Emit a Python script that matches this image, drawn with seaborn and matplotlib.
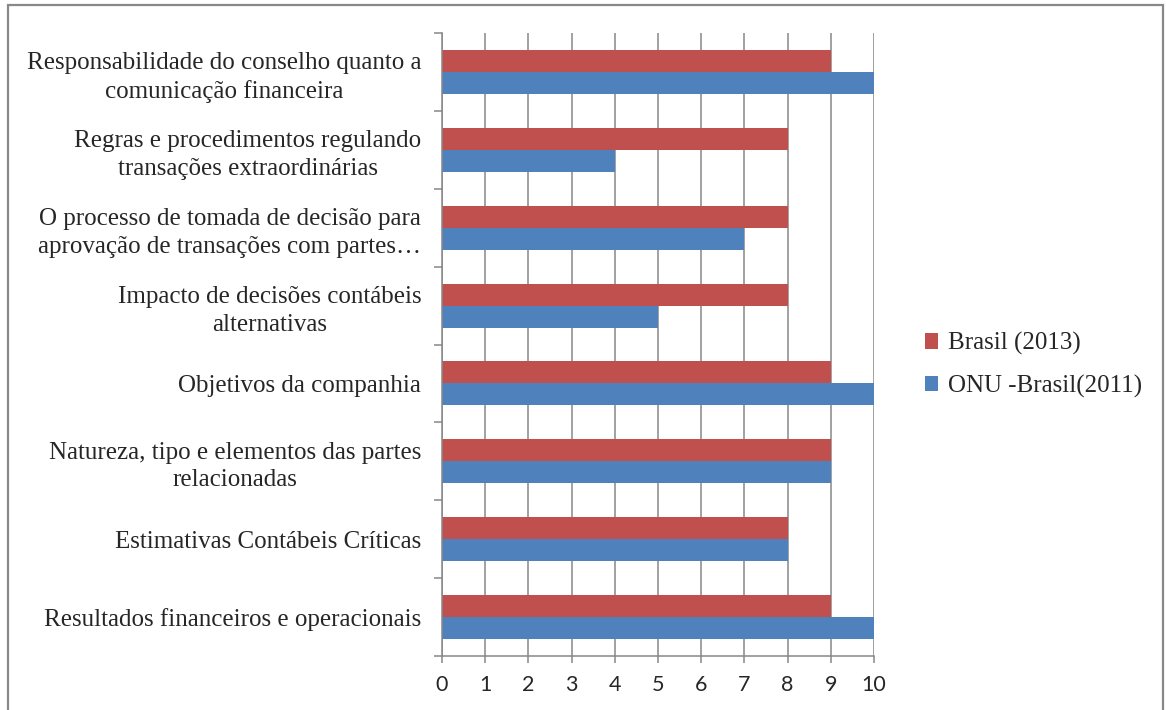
import matplotlib
matplotlib.use("Agg")
import matplotlib.pyplot as plt
from matplotlib.patches import Rectangle
import numpy as np
import pandas as pd
import seaborn as sns

categories = [
    "Responsabilidade do conselho quanto a\ncomunicação financeira",
    "Regras e procedimentos regulando\ntransações extraordinárias",
    "O processo de tomada de decisão para\naprovação de transações com partes…",
    "Impacto de decisões contábeis\nalternativas",
    "Objetivos da companhia",
    "Natureza, tipo e elementos das partes\nrelacionadas",
    "Estimativas Contábeis Críticas",
    "Resultados financeiros e operacionais",
]
brasil_2013 = [9, 8, 8, 8, 9, 9, 8, 9]
onu_brasil_2011 = [10, 4, 7, 5, 10, 9, 8, 10]
series_names = ["Brasil (2013)", "ONU -Brasil(2011)"]
x_ticks = list(range(0, 11))

df = pd.DataFrame({
    "categoria": categories * 2,
    "valor": brasil_2013 + onu_brasil_2011,
    "serie": [series_names[0]] * len(categories) + [series_names[1]] * len(categories),
})

sns.set_theme(style="white")
plt.rcParams["font.family"] = ["Liberation Serif", "DejaVu Serif"]

fig = plt.figure(figsize=(11.66, 7.10), dpi=100)
ax = fig.add_axes([442 / 1166, 1 - 656 / 710, (874 - 442) / 1166, (656 - 33) / 710])

palette = {series_names[0]: "#C0504D", series_names[1]: "#4F81BD"}
sns.barplot(data=df, x="valor", y="categoria", hue="serie", hue_order=series_names,
            order=categories, palette=palette, orient="h", width=0.565, gap=0,
            saturation=1, ax=ax, legend=True, linewidth=0)

grid_c = "#878787"
ax.set_xlim(0, 10)
ax.set_ylim(len(categories) - 0.5, -0.5)
ax.set_xticks(x_ticks)
ax.set_xticklabels([str(t) for t in x_ticks], family=["Lato", "DejaVu Sans"], fontsize=15.5)
ax.xaxis.grid(True, color=grid_c, linewidth=1.1)
ax.yaxis.grid(False)
ax.set_axisbelow(True)
ax.tick_params(axis="x", direction="out", length=5, width=1.1, color=grid_c, pad=9, bottom=True)

# category labels without ticks; separators as minor ticks between groups
ax.set_yticks(np.arange(len(categories)))
ax.set_yticklabels(categories, fontsize=18, multialignment="center", linespacing=1.33)
ax.set_yticks(np.arange(-0.5, len(categories)), minor=True)
ax.tick_params(axis="y", which="major", length=0, pad=15)
ax.tick_params(axis="y", which="minor", direction="out", length=6, width=1.1, color=grid_c, left=True)

for s in ["top", "right"]:
    ax.spines[s].set_visible(False)
for s in ["left", "bottom"]:
    ax.spines[s].set_color(grid_c)
    ax.spines[s].set_linewidth(1.1)

ax.set_xlabel("")
ax.set_ylabel("")

ax.legend(loc="center left", bbox_to_anchor=(912 / 1166, 1 - 365 / 710),
          bbox_transform=fig.transFigure, frameon=False, fontsize=18,
          handlelength=0.55, handleheight=0.55, handletextpad=0.4, labelspacing=0.78,
          borderpad=0)

# outer chart frame
fig.patches.append(Rectangle((8 / 1166, -0.05), (1163 - 8) / 1166, 1.05 - 5 / 710,
                             transform=fig.transFigure, fill=False,
                             edgecolor="#888888", linewidth=1.6))

fig.savefig("out.png", dpi=100)
